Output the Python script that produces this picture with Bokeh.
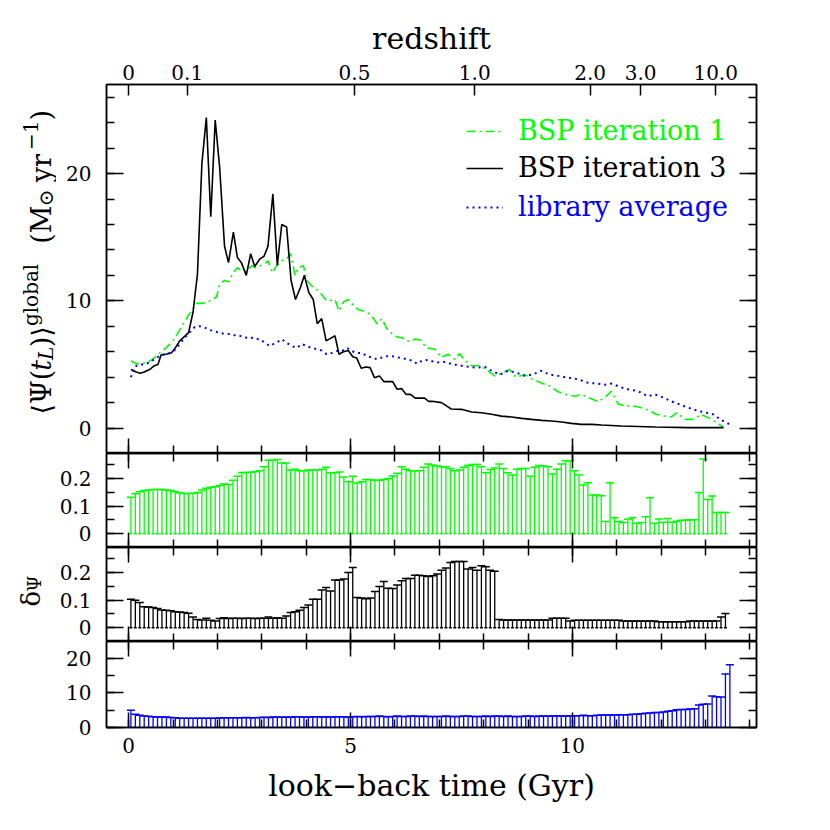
import math
from bokeh.plotting import figure
from bokeh.models import (Range1d, LinearAxis, SingleIntervalTicker, FixedTicker, Whisker, TeeHead,
                          ColumnDataSource, Legend, LegendItem, CustomJSTickFormatter, Grid)
from bokeh.core.properties import value
from bokeh.layouts import column, row
from bokeh.embed import file_html
from bokeh.resources import INLINE

# ---------------- data ----------------
# main panel: BSP iteration 1 (green, dash-dot)
t_it1 = [0.05, 0.17, 0.28, 0.39, 0.5, 0.62, 0.73, 0.84, 0.96, 1.07, 1.18, 1.3, 1.41, 1.52, 1.64,
         1.75, 1.86, 1.98, 2.05, 2.16, 2.26, 2.35, 2.45, 2.54, 2.65, 2.77, 2.86, 2.96, 3.07, 3.14,
         3.24, 3.33, 3.45, 3.56, 3.65, 3.75, 3.82, 3.94, 4.01, 4.12, 4.24, 4.35, 4.46, 4.58, 4.65,
         4.74, 4.84, 4.95, 5.07, 5.18, 5.29, 5.41, 5.52, 5.6, 5.71, 5.82, 5.94, 6.05, 6.16, 6.27,
         6.35, 6.46, 6.58, 6.71, 6.9, 7.05, 7.2, 7.35, 7.46, 7.58, 7.73, 7.91, 8.1, 8.25, 8.43,
         8.58, 8.73, 8.93, 9.1, 9.3, 9.49, 9.68, 9.83, 10.06, 10.2, 10.36, 10.58, 10.73, 10.88, 11.03,
         11.18, 11.37, 11.56, 11.75, 11.9, 12.08, 12.23, 12.35, 12.54, 12.73, 12.9, 13.1, 13.25, 13.4]
sfr_it1 = [5.3, 5.05, 5.05, 5.15, 5.3, 5.65, 6.0, 6.3, 6.7, 7.25, 7.9, 8.6, 9.2, 9.8, 9.8,
           9.87, 10.05, 10.3, 11.3, 11.6, 11.5, 12.2, 12.6, 12.4, 12.3, 12.75, 12.6, 12.75, 12.9, 13.15,
           12.2, 12.75, 13.15, 13.3, 13.7, 12.0, 12.6, 12.75, 11.6, 11.2, 10.9, 10.5, 10.0, 10.05, 10.1,
           9.2, 9.9, 10.1, 9.6, 9.3, 9.2, 9.0, 8.6, 8.2, 8.6, 7.8, 7.4, 7.15, 7.1, 6.85,
           6.8, 7.0, 6.9, 6.3, 6.2, 5.55, 5.8, 5.4, 5.85, 5.3, 4.9, 4.9, 4.5, 4.1, 4.35,
           4.6, 4.0, 4.2, 3.85, 3.55, 3.3, 2.85, 2.65, 2.5, 2.65, 2.4, 2.07, 2.4, 2.9, 1.9,
           1.73, 1.73, 1.6, 1.34, 1.07, 0.94, 0.87, 1.2, 0.68, 0.68, 1.07, 0.76, 0.42, 0.08]

# main panel: BSP iteration 3 (black, solid)
t_it3 = [0.05, 0.17, 0.26, 0.35, 0.47, 0.58, 0.66, 0.73, 0.84, 0.96, 1.05, 1.15, 1.26, 1.35, 1.45,
         1.55, 1.65, 1.75, 1.85, 1.95, 2.05, 2.16, 2.25, 2.36, 2.45, 2.54, 2.65, 2.75, 2.84, 2.96,
         3.05, 3.14, 3.25, 3.35, 3.45, 3.56, 3.66, 3.76, 3.87, 3.96, 4.06, 4.16, 4.25, 4.35, 4.45,
         4.55, 4.65, 4.74, 4.84, 4.95, 5.05, 5.14, 5.24, 5.35, 5.44, 5.54, 5.65, 5.75, 5.84, 5.95,
         6.05, 6.15, 6.25, 6.35, 6.46, 6.58, 6.67, 6.76, 6.84, 7.05, 7.27, 7.5, 7.73, 7.95,
         8.18, 8.4, 8.63, 8.86, 9.08, 9.31, 9.53, 9.76, 9.98, 10.2, 10.44, 10.66, 11.1, 11.87, 12.6, 13.41]
sfr_it3 = [4.6, 4.4, 4.3, 4.4, 4.6, 4.9, 5.0, 5.75, 5.8, 5.9, 6.3, 6.85, 7.2, 7.5, 9.1,
           12.1, 20.8, 24.4, 16.6, 24.2, 20.5, 14.3, 13.0, 15.4, 13.4, 13.0, 12.0, 13.7, 12.7, 13.3,
           13.5, 14.3, 18.4, 12.8, 16.0, 15.8, 11.6, 10.1, 11.05, 12.0, 10.65, 10.1, 8.2, 8.6, 6.85,
           7.05, 7.25, 5.8, 6.0, 6.1, 5.6, 5.5, 4.7, 4.8, 4.75, 3.96, 4.1, 3.65, 3.65, 3.65,
           3.05, 3.1, 2.65, 2.65, 2.35, 2.35, 2.35, 2.1, 2.1, 2.0, 1.5, 1.47, 1.26, 1.2,
           1.08, 0.94, 0.87, 0.76, 0.68, 0.6, 0.55, 0.47, 0.37, 0.29, 0.29, 0.24, 0.16, 0.08, 0.03, 0.03]

# main panel: library average (blue, dotted)
t_lib = [0.05, 0.13, 0.24, 0.35, 0.47, 0.58, 0.69, 0.81, 0.92, 1.03, 1.15, 1.26, 1.37, 1.49, 1.6,
         1.71, 1.83, 1.94, 2.05, 2.16, 2.28, 2.39, 2.5, 2.62, 2.73, 2.84, 2.96, 3.07, 3.18, 3.26,
         3.33, 3.45, 3.56, 3.67, 3.79, 3.9, 4.01, 4.12, 4.24, 4.35, 4.46, 4.58, 4.69, 4.8, 4.92,
         5.03, 5.14, 5.26, 5.37, 5.48, 5.6, 5.71, 5.82, 5.94, 6.05, 6.16, 6.27, 6.39, 6.5, 6.61,
         6.75, 6.93, 7.12, 7.31, 7.5, 7.69, 7.84, 8.03, 8.18, 8.37, 8.55, 8.74, 8.93, 9.1, 9.3,
         9.49, 9.68, 9.9, 10.13, 10.36, 10.55, 10.73, 10.88, 11.1, 11.25, 11.48, 11.7, 11.86, 12.05, 12.23,
         12.42, 12.61, 12.84, 13.03, 13.18, 13.33, 13.48, 13.6]
sfr_lib = [4.0, 4.8, 5.0, 5.0, 5.15, 5.4, 5.65, 5.8, 5.9, 6.1, 6.6, 7.1, 7.5, 7.95, 8.0,
           7.9, 7.7, 7.6, 7.5, 7.4, 7.4, 7.3, 7.25, 7.1, 7.15, 7.0, 6.98, 6.7, 6.45, 6.6,
           6.7, 6.98, 6.7, 6.45, 6.3, 6.6, 6.45, 6.3, 6.2, 6.1, 5.8, 5.9, 6.05, 6.05, 6.3,
           6.05, 5.9, 5.9, 5.65, 5.55, 5.4, 5.55, 5.65, 5.65, 5.55, 5.5, 5.4, 5.3, 5.05, 5.3,
           5.35, 5.15, 5.2, 5.0, 4.9, 4.8, 4.75, 4.8, 4.5, 4.2, 4.5, 4.35, 4.1, 4.2, 4.5,
           4.2, 4.1, 3.96, 3.83, 3.55, 3.5, 3.4, 3.5, 3.2, 3.05, 2.9, 2.5, 2.65, 2.4, 2.1,
           1.86, 1.6, 1.34, 1.2, 1.07, 0.68, 0.42, 0.16]

# lower panels: relative dispersion per 0.1 Gyr bin (bin centres 0.05, 0.15, ...)
bin_t = [round(0.05 + 0.1 * i, 2) for i in range(136)]

delta_it1 = [0.132, 0.144, 0.152, 0.156, 0.158, 0.160, 0.160, 0.160, 0.158, 0.156,
             0.152, 0.147, 0.145, 0.145, 0.146, 0.149, 0.158, 0.164, 0.168, 0.170,
             0.174, 0.180, 0.178, 0.193, 0.208, 0.221, 0.221, 0.222, 0.224, 0.228,
             0.242, 0.266, 0.266, 0.268, 0.256, 0.256, 0.230, 0.233, 0.228, 0.228,
             0.230, 0.230, 0.230, 0.233, 0.240, 0.220, 0.220, 0.223, 0.205, 0.188,
             0.208, 0.183, 0.188, 0.196, 0.196, 0.193, 0.193, 0.196, 0.200, 0.209,
             0.219, 0.242, 0.233, 0.228, 0.228, 0.228, 0.240, 0.252, 0.248, 0.245,
             0.242, 0.242, 0.236, 0.228, 0.230, 0.240, 0.247, 0.250, 0.250, 0.242,
             0.220, 0.232, 0.238, 0.252, 0.236, 0.220, 0.212, 0.233, 0.236, 0.236,
             0.208, 0.240, 0.247, 0.245, 0.242, 0.216, 0.233, 0.252, 0.264, 0.264,
             0.228, 0.212, 0.176, 0.184, 0.140, 0.140, 0.137, 0.044, 0.184, 0.058,
             0.044, 0.040, 0.052, 0.058, 0.038, 0.040, 0.061, 0.130, 0.038, 0.053,
             0.041, 0.055, 0.041, 0.045, 0.049, 0.049, 0.050, 0.050, 0.149, 0.270,
             0.124, 0.136, 0.077, 0.077, 0.077]

delta_it3 = [0.103, 0.099, 0.091, 0.076, 0.075, 0.073, 0.069, 0.064, 0.063, 0.061,
             0.058, 0.057, 0.055, 0.052, 0.039, 0.030, 0.028, 0.034, 0.027, 0.024,
             0.033, 0.036, 0.033, 0.034, 0.034, 0.033, 0.034, 0.034, 0.033, 0.034,
             0.034, 0.039, 0.034, 0.036, 0.034, 0.042, 0.055, 0.058, 0.063, 0.073,
             0.082, 0.103, 0.103, 0.136, 0.145, 0.133, 0.172, 0.172, 0.176, 0.200,
             0.218, 0.109, 0.107, 0.105, 0.107, 0.131, 0.149, 0.167, 0.143, 0.142,
             0.154, 0.170, 0.178, 0.178, 0.190, 0.190, 0.188, 0.185, 0.188, 0.194,
             0.208, 0.216, 0.236, 0.239, 0.239, 0.239, 0.212, 0.218, 0.208, 0.224,
             0.220, 0.208, 0.204, 0.030, 0.028, 0.028, 0.028, 0.028, 0.028, 0.028,
             0.028, 0.028, 0.028, 0.028, 0.028, 0.034, 0.034, 0.034, 0.034, 0.024,
             0.027, 0.027, 0.027, 0.027, 0.027, 0.027, 0.027, 0.027, 0.027, 0.027,
             0.027, 0.024, 0.024, 0.024, 0.024, 0.024, 0.024, 0.024, 0.024, 0.021,
             0.021, 0.021, 0.021, 0.021, 0.021, 0.021, 0.024, 0.024, 0.024, 0.024,
             0.024, 0.024, 0.024, 0.039, 0.051]

delta_lib = [5.0, 3.8, 3.55, 3.35, 3.25, 3.1, 3.05, 3.05, 3.0, 2.9,
             2.8, 2.7, 2.7, 2.7, 2.7, 2.7, 2.7, 2.65, 2.7, 2.7,
             2.75, 2.8, 2.8, 2.8, 2.8, 2.8, 2.85, 2.8, 2.8, 2.9,
             2.95, 2.9, 3.0, 3.0, 2.95, 3.0, 2.95, 3.1, 3.1, 3.0,
             3.05, 3.1, 3.1, 3.0, 3.1, 3.05, 3.1, 3.1, 3.1, 3.05,
             3.1, 3.2, 3.1, 3.15, 3.2, 3.2, 3.3, 3.2, 3.1, 3.2,
             3.3, 3.2, 3.2, 3.3, 3.3, 3.2, 3.3, 3.2, 3.2, 3.2,
             3.2, 3.3, 3.2, 3.2, 3.2, 3.3, 3.3, 3.2, 3.2, 3.2,
             3.3, 3.2, 3.3, 3.3, 3.2, 3.3, 3.2, 3.2, 3.2, 3.3,
             3.3, 3.2, 3.3, 3.3, 3.3, 3.3, 3.4, 3.3, 3.3, 3.4,
             3.4, 3.4, 3.5, 3.4, 3.4, 3.5, 3.6, 3.6, 3.6, 3.6,
             3.7, 3.7, 3.7, 3.8, 3.8, 4.0, 4.1, 4.2, 4.3, 4.3,
             4.5, 4.7, 4.8, 5.1, 5.2, 5.2, 5.3, 5.4, 6.5, 6.7,
             6.8, 9.1, 8.9, 8.8, 15.4, 18.1]

# redshift axis (top): look-back time of each redshift tick
z_time = [0.0, 1.32, 5.09, 7.80, 10.40, 11.54, 13.23]
z_labels = ["0", "0.1", "0.5", "1.0", "2.0", "3.0", "10.0"]

series_names = ["BSP iteration 1", "BSP iteration 3", "library average"]

# ---------------- styling ----------------
FONT = "DejaVu Serif"
GREEN, BLACK, BLUE = "#00ff00", "#000000", "#0000ff"
LABW = 56                     # width of the strip holding the rotated y labels
FW, LEFT, RIGHT = 650, 105 - LABW, 35
X0, X1 = -0.5, 14.15
M_H, P_H, B_H, TOP, BOT = 369, 94, 86, 84, 90
TOTAL_H = TOP + M_H + 2 * P_H + B_H + BOT

xr = Range1d(X0, X1)


def base_fig(fh, ylo, yhi, top, bottom):
    p = figure(frame_width=FW, frame_height=fh, x_range=xr, y_range=Range1d(ylo, yhi),
               x_axis_location=None, y_axis_location=None, output_backend="svg",
               toolbar_location=None, min_border_left=LEFT, min_border_right=RIGHT,
               min_border_top=top, min_border_bottom=bottom)
    p.renderers = [r for r in p.renderers if not isinstance(r, Grid)]
    for g in p.grid:
        g.visible = False
    p.outline_line_color = "black"
    p.outline_line_width = 1.5
    p.background_fill_color = "white"
    p.border_fill_color = "white"
    return p


def add_axis(p, side, ticker, fmt=None, maj=15, mnr=8, standoff=0, size="20px"):
    ax = LinearAxis(ticker=ticker, major_tick_in=maj, major_tick_out=0,
                    minor_tick_in=mnr, minor_tick_out=0,
                    axis_line_color="black", axis_line_width=1.5,
                    major_tick_line_color="black", major_tick_line_width=1.5,
                    minor_tick_line_color="black", minor_tick_line_width=1.5)
    if fmt is None:
        ax.formatter = CustomJSTickFormatter(code="return '';")
        ax.major_label_text_font_size = "0px"
        ax.major_label_standoff = 0
    else:
        if fmt != "default":
            ax.formatter = fmt
        ax.major_label_text_font = FONT
        ax.major_label_text_font_size = size
        ax.major_label_text_color = "black"
        ax.major_label_standoff = standoff
    p.add_layout(ax, side)
    return ax


def xt():
    return SingleIntervalTicker(interval=5, num_minor_ticks=5)


def dec_fmt():
    return CustomJSTickFormatter(code="return Math.abs(tick) < 1e-9 ? '0' : tick.toFixed(1);")


# ---------------- main panel ----------------
p1 = base_fig(M_H, -2, 27, TOP, 0)
r_it1 = p1.line(t_it1, sfr_it1, line_color=GREEN, line_width=1.6, line_dash="9 4 2 4")
r_it3 = p1.line(t_it3, sfr_it3, line_color=BLACK, line_width=1.6)
r_lib = p1.line(t_lib, sfr_lib, line_color=BLUE, line_width=2, line_dash="2 4")

add_axis(p1, "left", SingleIntervalTicker(interval=10, num_minor_ticks=5), fmt="default", maj=17, mnr=8, standoff=15)
add_axis(p1, "right", SingleIntervalTicker(interval=10, num_minor_ticks=5), maj=17, mnr=8)
add_axis(p1, "below", xt())
zfmt = CustomJSTickFormatter(args=dict(pos=z_time, lab=z_labels), code="""
const i = pos.findIndex(v => Math.abs(v - tick) < 1e-6);
return i >= 0 ? lab[i] : '';
""")
zax = add_axis(p1, "above", FixedTicker(ticks=z_time, minor_ticks=[]), fmt=zfmt, maj=11, mnr=0, standoff=5)
zax.axis_label = "redshift"
zax.axis_label_text_font = FONT
zax.axis_label_text_font_size = "30px"
zax.axis_label_text_font_style = "normal"
zax.axis_label_text_color = "black"
zax.axis_label_standoff = 6

for name, rend, col, ypos in zip(series_names, [r_it1, r_it3, r_lib], [GREEN, BLACK, BLUE], [307, 270, 231]):
    lg = Legend(items=[LegendItem(label=name, renderers=[rend])], location=(360, ypos),
                glyph_width=37, glyph_height=20, label_standoff=15, padding=0, margin=0, spacing=0,
                border_line_alpha=0, background_fill_alpha=0, label_height=20,
                label_text_font=FONT, label_text_font_size="27px", label_text_color=col)
    p1.add_layout(lg)


def bar_panel(fh, ylo, yhi, top, bottom, vals, color, yticker, yfmt):
    p = base_fig(fh, ylo, yhi, top, bottom)
    n = len(vals)
    src = ColumnDataSource(dict(t=bin_t[:n], lo=[0.0] * n, hi=vals))
    w = Whisker(source=src, base="t", lower="lo", upper="hi", dimension="height",
                line_color=color, line_width=1.3,
                upper_head=TeeHead(size=8, line_color=color, line_width=1.5),
                lower_head=TeeHead(size=3, line_color=color, line_width=1.5))
    p.add_layout(w)
    add_axis(p, "left", yticker(), fmt=yfmt, maj=17, mnr=8, standoff=15)
    add_axis(p, "right", yticker(), maj=17, mnr=8)
    add_axis(p, "above", xt())
    return p


p2 = bar_panel(P_H, -0.05, 0.29, 0, 0, delta_it1, GREEN,
               lambda: SingleIntervalTicker(interval=0.1, num_minor_ticks=2), dec_fmt())
add_axis(p2, "below", xt())

p3 = bar_panel(P_H, -0.05, 0.29, 0, 0, delta_it3, BLACK,
               lambda: SingleIntervalTicker(interval=0.1, num_minor_ticks=2), dec_fmt())
add_axis(p3, "below", xt())

p4 = bar_panel(B_H, 0, 24.8, 0, BOT, delta_lib, BLUE,
               lambda: SingleIntervalTicker(interval=10, num_minor_ticks=2), "default")
bax = add_axis(p4, "below", xt(), fmt="default", maj=15, mnr=8, standoff=10)
bax.axis_label = "look−back time (Gyr)"
bax.axis_label_text_font = FONT
bax.axis_label_text_font_size = "30px"
bax.axis_label_text_font_style = "normal"
bax.axis_label_text_color = "black"
bax.axis_label_standoff = 12

# ---------------- strip with the rotated y-axis titles (pixel coordinates) ----------------
lab = figure(frame_width=LABW, frame_height=TOTAL_H, x_range=Range1d(0, LABW),
             y_range=Range1d(0, TOTAL_H), x_axis_location=None, y_axis_location=None,
             output_backend="svg", toolbar_location=None, min_border=0)
lab.renderers = [r for r in lab.renderers if not isinstance(r, Grid)]
for g in lab.grid:
    g.visible = False
lab.outline_line_color = None


def vtext(text, px, py, size, style="normal"):
    lab.text(x=[px], y=[TOTAL_H - py], text=[text], angle=math.pi / 2,
             text_font=value(FONT), text_font_size=value(f"{size}px"),
             text_font_style=value(style), text_align="left", text_baseline="alphabetic",
             text_color="black")


EM = {"⟨Ψ(": 1.62, "t": 0.40, "L": 0.64, ")⟩": 0.78, "global": 3.12, "(M": 1.385, "⊙": 1.2,
      " yr": 1.2, "−1": 1.474, ")": 0.39}
pieces = [("⟨Ψ(", 27, "normal", 0, 0), ("t", 27, "italic", 0, 0), ("L", 20, "italic", 4, 0),
          (")⟩", 27, "normal", 0, 0), ("global", 20, "normal", -11, 20), ("(M", 27, "normal", 0, 0),
          ("⊙", 20, "normal", 4, 0), (" yr", 27, "normal", 0, 0), ("−1", 20, "normal", -11, 0),
          (")", 27, "normal", 0, 0)]
ypage = 414
for text, size, style, dx, gap in pieces:
    vtext(text, 41 + dx, ypage, size, style)
    ypage -= EM[text] * size + gap

vtext("δ", 30, 606, 26)
vtext("Ψ", 34, 591, 18)

layout = row(lab, column(p1, p2, p3, p4, spacing=0), spacing=0)
open("out.html", "w").write(file_html(layout, INLINE))
